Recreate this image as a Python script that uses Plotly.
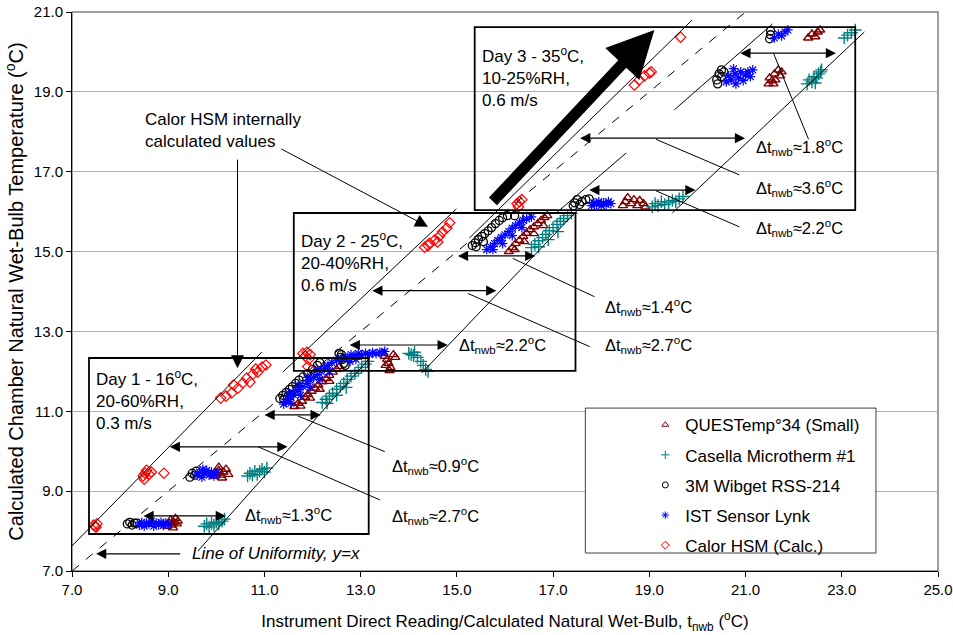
import plotly.graph_objects as go

# ---------------- data ----------------
quest_x = [8.98, 9.02, 9.05, 9.08, 9.12, 9.15, 9.18, 9.10, 9.20,
           9.95, 10.0, 10.05, 10.1, 10.15, 10.2, 10.25, 10.12, 10.05,
           11.62, 11.7, 11.78, 11.85, 11.9, 11.98, 12.05, 12.12, 12.2, 12.28, 12.35, 12.42, 12.5, 12.56, 11.75, 11.95, 12.15, 12.35,
           13.45, 13.5, 13.55, 13.58, 13.62, 13.6, 13.68, 13.72, 13.52,
           16.08, 16.15, 16.22, 16.3, 16.38, 16.45, 16.52, 16.6, 16.68, 16.75, 16.82, 16.88, 16.2, 16.4, 16.6, 16.8,
           18.45, 18.5, 18.55, 18.62, 18.68, 18.75, 18.8, 18.88, 18.92,
           21.48, 21.5, 21.55, 21.6, 21.62, 21.68, 21.72, 21.75, 21.58,
           22.3, 22.38, 22.45, 22.5, 22.55]
quest_y = [8.12, 8.2, 8.28, 8.15, 8.22, 8.32, 8.18, 8.08, 8.25,
           9.38, 9.45, 9.52, 9.4, 9.48, 9.55, 9.42, 9.33, 9.6,
           11.12, 11.2, 11.25, 11.35, 11.42, 11.5, 11.58, 11.66, 11.74, 11.82, 11.9, 11.98, 12.05, 12.12, 11.13, 11.33, 11.55, 11.75,
           12.45, 12.38, 12.3, 12.2, 12.1, 12.02, 12.42, 12.35, 12.15,
           15.0, 15.1, 15.2, 15.28, 15.38, 15.46, 15.55, 15.62, 15.7, 15.78, 15.85, 15.9, 15.05, 15.25, 15.45, 15.65,
           16.15, 16.25, 16.35, 16.2, 16.3, 16.15, 16.28, 16.2, 16.12,
           19.2, 19.35, 19.28, 19.45, 19.3, 19.55, 19.4, 19.5, 19.2,
           20.35, 20.45, 20.38, 20.5, 20.55]

casella_x = [9.75, 9.8, 9.85, 9.9, 9.95, 10.0, 10.05, 10.12, 10.17,
             10.65, 10.7, 10.75, 10.8, 10.85, 10.9, 10.95, 11.0, 11.05,
             12.2, 12.28, 12.35, 12.42, 12.5, 12.58, 12.65, 12.72, 12.8, 12.88, 12.95, 13.02, 13.1, 13.15, 12.3, 12.5, 12.7,
             14.0, 14.05, 14.1, 14.18, 14.25, 14.3, 14.35, 14.4, 14.12,
             16.55, 16.62, 16.7, 16.78, 16.85, 16.92, 17.0, 17.08, 17.15, 17.22, 17.3, 17.38, 16.7, 16.9, 17.1,
             19.06, 19.12, 19.18, 19.25, 19.32, 19.4, 19.48, 19.55, 19.62, 19.7,
             22.28, 22.32, 22.38, 22.42, 22.48, 22.52, 22.56, 22.45, 22.58,
             23.05, 23.12, 23.2, 23.28]
casella_y = [8.12, 8.18, 8.1, 8.2, 8.15, 8.22, 8.18, 8.25, 8.3,
             9.38, 9.45, 9.4, 9.5, 9.42, 9.5, 9.55, 9.48, 9.58,
             11.22, 11.3, 11.38, 11.45, 11.55, 11.62, 11.7, 11.8, 11.88, 11.95, 12.02, 12.1, 12.18, 12.25, 11.2, 11.4, 11.6,
             12.45, 12.42, 12.4, 12.35, 12.25, 12.15, 12.05, 12.0, 12.48,
             15.1, 15.18, 15.27, 15.35, 15.43, 15.52, 15.6, 15.68, 15.76, 15.83, 15.9, 15.96, 15.12, 15.3, 15.5,
             16.12, 16.2, 16.15, 16.25, 16.18, 16.22, 16.28, 16.25, 16.32, 16.38,
             19.2, 19.3, 19.25, 19.38, 19.35, 19.45, 19.5, 19.22, 19.55,
             20.35, 20.42, 20.48, 20.55]

wibget_x = [8.15, 8.2, 8.25, 8.3, 8.35,
            9.45, 9.5, 9.55, 9.58,
            11.32, 11.38, 11.45, 11.52, 11.58, 11.65, 11.72, 11.8, 11.9, 12.0, 12.1, 12.15, 11.4, 11.55,
            12.55, 12.6, 12.62, 12.65, 12.58, 12.68,
            15.32, 15.38, 15.45, 15.52, 15.58, 15.65, 15.72, 15.8, 15.88, 15.95, 16.05, 16.2, 16.45, 15.4, 15.55,
            17.42, 17.45, 17.5, 17.55, 17.6, 17.68, 17.75,
            20.4, 20.42, 20.45, 20.5, 20.5, 20.55,
            21.5, 21.52, 21.52]
wibget_y = [8.18, 8.22, 8.15, 8.2, 8.2,
            9.35, 9.45, 9.4, 9.5,
            11.32, 11.4, 11.47, 11.55, 11.62, 11.7, 11.78, 11.86, 11.95, 12.05, 12.15, 12.22, 11.3, 11.42,
            12.45, 12.42, 12.3, 12.2, 12.35, 12.15,
            15.15, 15.22, 15.3, 15.38, 15.45, 15.52, 15.6, 15.7, 15.78, 15.85, 15.9, 15.9, 15.88, 15.12, 15.25,
            16.15, 16.22, 16.3, 16.18, 16.25, 16.3, 16.32,
            19.3, 19.2, 19.45, 19.38, 19.55, 19.5,
            20.33, 20.43, 20.53]

ist_x = [8.4, 8.45, 8.5, 8.55, 8.6, 8.65, 8.7, 8.75, 8.8, 8.85, 8.9, 8.95, 9.0,
         9.6, 9.65, 9.7, 9.75, 9.8, 9.85, 9.9, 9.95, 10.0, 9.72,
         11.4, 11.45, 11.5, 11.55, 11.6, 11.65, 11.72, 11.8, 11.88, 11.95, 12.02, 12.1, 12.18, 12.25, 12.32, 12.4, 12.5, 12.6,
         11.55, 11.75, 11.95, 12.15, 12.35, 11.5, 11.7, 11.9, 12.1,
         12.72, 12.8, 12.88, 12.95, 13.02, 13.1, 13.18, 13.25, 13.32, 13.4, 13.5, 12.78, 12.9,
         15.62, 15.7, 15.78, 15.85, 15.92, 16.0, 16.08, 16.15, 16.22, 16.3, 16.38, 16.45, 16.55, 15.75, 15.95, 16.15, 16.35,
         17.8, 17.85, 17.9, 17.95, 18.0, 18.05, 18.1, 18.15, 18.2,
         20.6, 20.65, 20.7, 20.78, 20.85, 20.9, 20.95, 21.0, 21.05, 21.1, 21.15, 20.8, 20.75,
         21.6, 21.68, 21.75, 21.82, 21.88]
ist_y = [8.15, 8.22, 8.12, 8.2, 8.18, 8.25, 8.12, 8.2, 8.16, 8.22, 8.14, 8.2, 8.18,
         9.4, 9.48, 9.35, 9.45, 9.52, 9.4, 9.48, 9.38, 9.45, 9.55,
         11.18, 11.25, 11.3, 11.36, 11.42, 11.5, 11.55, 11.62, 11.7, 11.78, 11.85, 11.92, 12.0, 12.08, 12.15, 12.22, 12.28, 12.32,
         11.2, 11.4, 11.6, 11.8, 12.0, 11.45, 11.65, 11.85, 12.05,
         12.35, 12.42, 12.38, 12.45, 12.4, 12.45, 12.42, 12.47, 12.44, 12.48, 12.5, 12.25, 12.3,
         15.05, 15.12, 15.2, 15.28, 15.35, 15.42, 15.5, 15.58, 15.65, 15.72, 15.78, 15.82, 15.87, 15.05, 15.2, 15.4, 15.6,
         16.15, 16.22, 16.18, 16.25, 16.15, 16.22, 16.18, 16.25, 16.2,
         19.25, 19.4, 19.3, 19.45, 19.35, 19.5, 19.28, 19.42, 19.5, 19.38, 19.55, 19.2, 19.58,
         20.35, 20.45, 20.4, 20.5, 20.55]

calor_x = [7.45, 7.5, 7.52, 7.48,
           8.48, 8.52, 8.55, 8.6, 8.65, 8.5, 8.91,
           10.09, 10.2, 10.32, 10.36, 10.45, 10.55, 10.63, 10.7, 10.76, 10.86, 10.95, 11.03, 10.82,
           11.8, 11.88, 11.95, 11.85, 11.92, 11.9,
           14.33, 14.43, 14.54, 14.64, 14.7, 14.79, 14.85, 14.6, 14.4,
           16.25, 16.3, 16.35, 16.28,
           18.69, 18.79, 18.9, 19.0, 19.04,
           19.65]
calor_y = [8.15, 8.1, 8.18, 8.12,
           9.38, 9.45, 9.52, 9.42, 9.48, 9.3, 9.45,
           11.33, 11.38, 11.46, 11.66, 11.58, 11.71, 11.83, 11.73, 11.93, 11.98, 12.11, 12.16, 12.06,
           12.45, 12.48, 12.42, 12.38, 12.3, 12.12,
           15.11, 15.21, 15.29, 15.39, 15.49, 15.59, 15.72, 15.24, 15.15,
           16.2, 16.25, 16.3, 16.12,
           19.17, 19.3, 19.4, 19.47, 19.5,
           20.37]

series_names = ["QUESTemp°34 (Small)", "Casella Microtherm #1", "3M Wibget RSS-214",
                "IST Sensor Lynk", "Calor HSM (Calc.)"]

# guide lines drawn on the chart (data units)
uniform_x = [7.0, 21.0]
uniform_y = [7.0, 21.0]
slant_x0 = [6.855, 9.616, 11.38, 14.27, 15.26, 17.07, 19.52, 19.48]
slant_y0 = [7.45, 7.50, 11.98, 11.96, 15.34, 15.97, 18.55, 15.97]
slant_x1 = [10.945, 13.19, 14.99, 17.51, 19.89, 18.52, 21.56, 23.47]
slant_y1 = [12.485, 12.335, 16.07, 16.04, 20.8, 17.47, 20.70, 20.5]

box_x0 = [7.353, 11.61, 15.37]
box_x1 = [13.167, 17.465, 23.28]
box_y0 = [7.927, 12.01, 16.04]
box_y1 = [12.335, 15.966, 20.62]

legend_box = [17.67, 7.45, 23.71, 11.08]

# double-headed arrows: x from, x to, y
darrow_x0 = [8.453, 9.0, 10.97, 12.74, 13.21, 14.99, 17.72, 17.53, 20.86]
darrow_x1 = [10.198, 11.48, 12.17, 14.81, 15.82, 16.63, 19.96, 20.99, 22.88]
darrow_y = [8.38, 10.11, 10.91, 12.66, 14.02, 14.89, 16.54, 17.84, 19.97]

# leader lines from arrows to labels
lead_x0 = [11.70, 10.87, 16.16, 15.23, 21.58, 19.14, 19.14]
lead_y0 = [10.88, 10.11, 14.83, 13.95, 19.97, 17.81, 16.52]
lead_x1 = [13.50, 13.40, 17.86, 17.76, 22.31, 20.87, 20.87]
lead_y1 = [9.99, 8.78, 13.87, 12.62, 17.81, 16.92, 15.62]

# delta labels
dt_values = ["1.3", "0.9", "2.7", "2.2", "1.4", "2.7", "1.8", "3.6", "2.2"]
dt_x = [10.55, 13.60, 13.60, 15.0, 18.03, 18.03, 21.18, 21.18, 21.18]
dt_y = [8.40, 9.63, 8.38, 12.66, 13.62, 12.66, 17.63, 16.58, 15.58]

day_texts = ["Day 1 - 16<sup>o</sup>C,<br>20-60%RH,<br>0.3 m/s",
             "Day 2 - 25<sup>o</sup>C,<br>20-40%RH,<br>0.6 m/s",
             "Day 3 - 35<sup>o</sup>C,<br>10-25%RH,<br>0.6 m/s"]
day_x = [7.45, 11.72, 15.47]
day_y = [11.28, 14.75, 19.38]

calor_note = "Calor HSM internally<br>calculated values"
calor_note_xy = [8.48, 18.03]
calor_arrows = [[10.44, 17.34, 10.44, 12.08], [11.32, 17.59, 14.40, 15.62]]

uniform_note = "<i>Line of Uniformity, y=x</i>"
uniform_note_xy = [9.45, 7.45]
uniform_arrow = [9.28, 7.43, 7.50, 7.43]

big_arrow = [15.72, 16.22, 19.105, 20.55]

# ---------------- figure ----------------
FONT = "Liberation Sans, Arial, sans-serif"
styles = [
    dict(symbol="triangle-up-open", color="#800000", size=8, lw=1.4),
    dict(symbol="cross-thin-open", color="#008080", size=9, lw=1.4),
    dict(symbol="circle-open", color="#000000", size=8, lw=1.3),
    dict(symbol="asterisk-open", color="#0000FF", size=8, lw=1.2),
    dict(symbol="diamond-open", color="#FF0000", size=8, lw=1.2),
]
xs = [quest_x, casella_x, wibget_x, ist_x, calor_x]
ys = [quest_y, casella_y, wibget_y, ist_y, calor_y]

fig = go.Figure()
for name, st, x, y in zip(series_names, styles, xs, ys):
    fig.add_trace(go.Scatter(
        x=x, y=y, mode="markers", name=name, legendgroup=name, showlegend=False,
        marker=dict(symbol=st["symbol"], size=st["size"], color=st["color"],
                    line=dict(color=st["color"], width=st["lw"])),
    ))
# legend entries (smaller symbols, as in the reference legend)
for name, st in zip(series_names, styles):
    fig.add_trace(go.Scatter(
        x=[None], y=[None], mode="markers", name=name, legendgroup=name, showlegend=True,
        marker=dict(symbol=st["symbol"], size=6, color=st["color"],
                    line=dict(color=st["color"], width=1)),
    ))

shapes = []
shapes.append(dict(type="rect", xref="paper", yref="paper", x0=0, y0=0, x1=1, y1=1,
                   line=dict(color="#808080", width=1.5), layer="below"))
shapes.append(dict(type="rect", xref="x", yref="y", x0=legend_box[0], y0=legend_box[1],
                   x1=legend_box[2], y1=legend_box[3], fillcolor="white",
                   line=dict(color="#404040", width=1), layer="between"))
shapes.append(dict(type="line", xref="x", yref="y", x0=uniform_x[0], y0=uniform_y[0],
                   x1=uniform_x[1], y1=uniform_y[1], line=dict(color="black", width=1, dash="dash")))
for a, b, c, d in zip(slant_x0, slant_y0, slant_x1, slant_y1):
    shapes.append(dict(type="line", xref="x", yref="y", x0=a, y0=b, x1=c, y1=d,
                       line=dict(color="black", width=1)))
for a, b, c, d in zip(box_x0, box_y0, box_x1, box_y1):
    shapes.append(dict(type="rect", xref="x", yref="y", x0=a, y0=b, x1=c, y1=d,
                       line=dict(color="black", width=1.8)))
for a, b, c, d in zip(lead_x0, lead_y0, lead_x1, lead_y1):
    shapes.append(dict(type="line", xref="x", yref="y", x0=a, y0=b, x1=c, y1=d,
                       line=dict(color="black", width=1)))

ann = []
for a, c, yy in zip(darrow_x0, darrow_x1, darrow_y):
    ann.append(dict(x=c, y=yy, ax=a, ay=yy, xref="x", yref="y", axref="x", ayref="y",
                    text="", showarrow=True, arrowhead=2, startarrowhead=2, arrowside="end+start",
                    arrowwidth=1.2, arrowsize=1.7, startarrowsize=1.7, arrowcolor="black"))
for v, xx, yy in zip(dt_values, dt_x, dt_y):
    ann.append(dict(x=xx, y=yy, xref="x", yref="y", xanchor="left", yanchor="middle",
                    text="Δt<sub>nwb</sub>≈" + v + "<sup>o</sup>C", showarrow=False,
                    font=dict(size=16.5, family=FONT, color="black")))
for t, xx, yy in zip(day_texts, day_x, day_y):
    ann.append(dict(x=xx, y=yy, xref="x", yref="y", xanchor="left", yanchor="middle", align="left",
                    text=t, showarrow=False, font=dict(size=17, family=FONT, color="black")))
ann.append(dict(x=calor_note_xy[0], y=calor_note_xy[1], xref="x", yref="y", xanchor="left",
                yanchor="middle", align="left", text=calor_note, showarrow=False,
                font=dict(size=17, family=FONT, color="black")))
for a, b, c, d in calor_arrows:
    ann.append(dict(x=c, y=d, ax=a, ay=b, xref="x", yref="y", axref="x", ayref="y", text="",
                    showarrow=True, arrowhead=2, arrowwidth=1, arrowsize=2.6, arrowcolor="black"))
ann.append(dict(x=uniform_note_xy[0], y=uniform_note_xy[1], xref="x", yref="y", xanchor="left",
                yanchor="middle", text=uniform_note, showarrow=False,
                font=dict(size=17, family=FONT, color="black")))
ann.append(dict(x=uniform_arrow[2], y=uniform_arrow[3], ax=uniform_arrow[0], ay=uniform_arrow[1],
                xref="x", yref="y", axref="x", ayref="y", text="", showarrow=True,
                arrowhead=2, arrowwidth=1.2, arrowsize=1.7, arrowcolor="black"))
ann.append(dict(x=big_arrow[2], y=big_arrow[3], ax=big_arrow[0], ay=big_arrow[1],
                xref="x", yref="y", axref="x", ayref="y", text="", showarrow=True,
                arrowhead=2, arrowwidth=11, arrowsize=0.85, arrowcolor="black"))

fig.update_layout(
    width=953, height=635, autosize=False,
    margin=dict(l=72, r=15, t=12, b=64),
    paper_bgcolor="white", plot_bgcolor="white",
    font=dict(family=FONT, color="black"),
    shapes=shapes, annotations=ann,
    showlegend=True,
    legend=dict(x=0.662, y=0.293, xanchor="left", yanchor="top", bgcolor="rgba(0,0,0,0)",
                borderwidth=0, font=dict(size=17, family=FONT, color="black"),
                tracegroupgap=5, traceorder="grouped"),
    xaxis=dict(range=[7, 25], tick0=7, dtick=2, tickformat=".1f", showgrid=False, zeroline=False,
               showline=True, linecolor="black", linewidth=1, ticks="outside", ticklen=5,
               tickcolor="black", tickfont=dict(size=15), automargin=False,
               ticklabeloverflow="allow",
               title=dict(text="Instrument Direct Reading/Calculated Natural Wet-Bulb, t<sub>nwb</sub> (<sup>o</sup>C)",
                          font=dict(size=17), standoff=18)),
    yaxis=dict(range=[7, 21], tick0=7, dtick=2, tickformat=".1f", showgrid=True, gridcolor="#b0b0b0",
               gridwidth=1, zeroline=False, showline=True, linecolor="black", linewidth=1,
               ticks="outside", ticklen=5, tickcolor="black", tickfont=dict(size=15), automargin=False,
               ticklabeloverflow="allow",
               title=dict(text="Calculated Chamber Natural Wet-Bulb Temperature (<sup>o</sup>C)",
                          font=dict(size=20), standoff=4)),
)

# remove the default page margin so the figure sits at the window's top-left corner
fig.write_html("out.html", config={"displayModeBar": False},
               post_script="document.body.style.margin='0';")
